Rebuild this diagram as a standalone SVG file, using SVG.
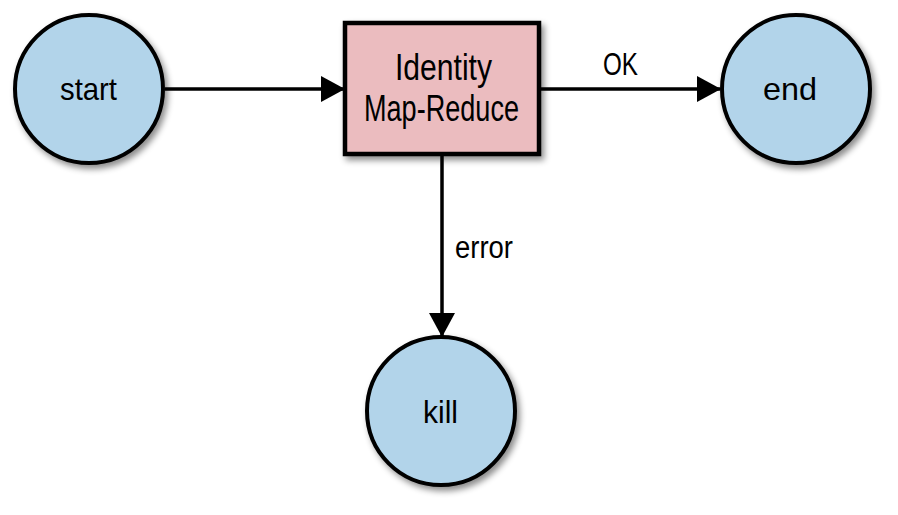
<svg xmlns="http://www.w3.org/2000/svg" width="898" height="515" viewBox="0 0 898 515">
<defs>
<filter id="sh" x="-20%" y="-20%" width="150%" height="150%">
<feDropShadow dx="3" dy="4" stdDeviation="3" flood-color="#000" flood-opacity="0.45"/>
</filter>
<marker id="ah" markerWidth="24" markerHeight="26" refX="23" refY="13" orient="auto" markerUnits="userSpaceOnUse">
<path d="M0,0 L24,13 L0,26 Z" fill="#000"/>
</marker>
<style>
.c{fill:#b2d4ea;stroke:#000;stroke-width:4;filter:url(#sh)}
.b{fill:#ebbcbf;stroke:#000;stroke-width:4.5;filter:url(#sh)}
.e{stroke:#000;stroke-width:3.5;fill:none;marker-end:url(#ah)}
text{font-family:"Liberation Sans Narrow","Liberation Sans",sans-serif;fill:#000}
.n{font-size:32px}
.t{font-size:36px}
.l{font-size:31px}
</style>
</defs>
<g id="connectors">
<line class="e" x1="165" y1="89" x2="344" y2="89"/>
<line class="e" x1="540" y1="89" x2="720" y2="89"/>
<line class="e" x1="442" y1="155" x2="442" y2="336"/>
<text class="l" x="603" y="75" textLength="35" lengthAdjust="spacingAndGlyphs">OK</text>
<text class="l" x="455" y="258" textLength="58" lengthAdjust="spacingAndGlyphs">error</text>
</g>
<g id="start">
<circle class="c" cx="89" cy="89" r="74"/>
<text class="n" x="60" y="100" textLength="57" lengthAdjust="spacingAndGlyphs">start</text>
</g>
<g id="identity">
<rect class="b" x="345" y="23" width="194" height="131"/>
<text class="t" x="395" y="80" textLength="97" lengthAdjust="spacingAndGlyphs">Identity</text>
<text class="t" x="364" y="121" textLength="155" lengthAdjust="spacingAndGlyphs">Map-Reduce</text>
</g>
<g id="end">
<circle class="c" cx="796" cy="89" r="74"/>
<text class="n" x="763" y="100" textLength="54" lengthAdjust="spacingAndGlyphs">end</text>
</g>
<g id="kill">
<circle class="c" cx="441" cy="411" r="74"/>
<text class="n" x="423" y="423" textLength="35" lengthAdjust="spacingAndGlyphs">kill</text>
</g>
</svg>
